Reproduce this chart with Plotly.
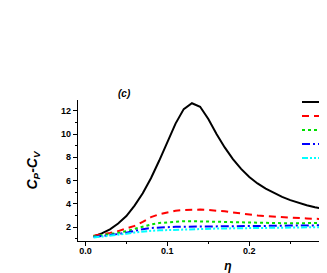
import plotly.graph_objects as go

# ---- data ----
eta = [0.01, 0.02, 0.03, 0.04, 0.05, 0.06, 0.07, 0.08, 0.09, 0.10,
       0.11, 0.12, 0.13, 0.14, 0.15, 0.16, 0.17, 0.18, 0.19, 0.20,
       0.21, 0.22, 0.23, 0.24, 0.25, 0.26, 0.27, 0.28, 0.29, 0.30,
       0.31, 0.32, 0.33, 0.34, 0.35, 0.36]

cpcv_1 = [1.20, 1.45, 1.80, 2.30, 2.95, 3.85, 4.90, 6.20, 7.70, 9.30,
          10.90, 12.15, 12.65, 12.35, 11.30, 10.00, 8.85, 7.85, 7.00, 6.30,
          5.75, 5.30, 4.92, 4.60, 4.32, 4.08, 3.88, 3.70, 3.55, 3.42,
          3.30, 3.20, 3.10, 3.02, 2.95, 2.89]
cpcv_2 = [1.25, 1.35, 1.50, 1.65, 1.85, 2.10, 2.45, 2.85, 3.10, 3.28,
          3.40, 3.47, 3.50, 3.50, 3.47, 3.42, 3.35, 3.25, 3.15, 3.07,
          3.00, 2.94, 2.89, 2.85, 2.81, 2.77, 2.74, 2.71, 2.68, 2.66,
          2.64, 2.62, 2.61, 2.60, 2.59, 2.58]
cpcv_3 = [1.20, 1.28, 1.38, 1.50, 1.65, 1.85, 2.05, 2.22, 2.35, 2.42,
          2.47, 2.50, 2.50, 2.50, 2.48, 2.46, 2.44, 2.42, 2.40, 2.38,
          2.36, 2.34, 2.33, 2.32, 2.32, 2.33, 2.34, 2.35, 2.36, 2.37,
          2.38, 2.39, 2.40, 2.41, 2.42, 2.43]
cpcv_4 = [1.15, 1.22, 1.30, 1.40, 1.52, 1.68, 1.82, 1.92, 1.97, 2.00,
          2.02, 2.03, 2.04, 2.05, 2.05, 2.05, 2.06, 2.06, 2.07, 2.07,
          2.08, 2.08, 2.09, 2.09, 2.10, 2.11, 2.12, 2.12, 2.13, 2.14,
          2.15, 2.16, 2.17, 2.18, 2.19, 2.20]
cpcv_5 = [1.10, 1.17, 1.25, 1.33, 1.42, 1.53, 1.62, 1.68, 1.72, 1.75,
          1.78, 1.80, 1.82, 1.84, 1.86, 1.87, 1.88, 1.89, 1.90, 1.90,
          1.91, 1.92, 1.93, 1.94, 1.95, 1.96, 1.97, 1.98, 1.99, 2.00,
          2.01, 2.02, 2.03, 2.04, 2.05, 2.06]

series = [cpcv_1, cpcv_2, cpcv_3, cpcv_4, cpcv_5]
names = ["", "", "", "", ""]
colors = ["#000000", "#FF0000", "#00E000", "#0000FF", "#00FFFF"]
dashes = ["solid", "7px,5px", "dot", "8px,3px,2px,3px", "6px,2px,2px,2px,2px,2px"]
legend_ids = ["legend", "legend2", "legend3", "legend4", "legend5"]
legend_y_px = [102, 116, 130, 144, 158]   # positions on the page

OFF = 8          # the page's body margin
W, H = 378, 273

FONT = "Liberation Sans, Arial, sans-serif"

fig = go.Figure()
for s, n, c, d, lg in zip(series, names, colors, dashes, legend_ids):
    fig.add_trace(go.Scatter(x=eta, y=s, mode="lines", name=n, legend=lg,
                             line=dict(color=c, width=2, dash=d)))

legends = {}
for lg, ypx in zip(legend_ids, legend_y_px):
    legends[lg] = dict(xref="container", yref="container",
                       x=(302 - OFF - 5) / W, y=1 - (ypx - OFF) / H,
                       xanchor="left", yanchor="middle",
                       bgcolor="rgba(0,0,0,0)", borderwidth=0,
                       font=dict(size=8), itemwidth=30)

fig.update_layout(
    width=W, height=H,
    margin=dict(l=78 - OFF, r=W - (378 - OFF), t=100 - OFF, b=H - (241 - OFF),
                autoexpand=False),
    paper_bgcolor="white", plot_bgcolor="white",
    showlegend=True,
    **legends,
    annotations=[dict(text="<b><i>(c)</i></b>", xref="paper", yref="paper",
                      x=(124 - 78) / 300, y=(241 - 93) / 141,
                      xanchor="center", yanchor="middle", showarrow=False,
                      font=dict(family=FONT, size=10, color="#000"))],
)

fig.update_xaxes(range=[-0.009, 0.357], showgrid=False, zeroline=False,
                 showline=True, linecolor="#000", linewidth=1.2,
                 ticks="outside", ticklen=4, tickwidth=1.2, tickcolor="#000",
                 tick0=0, dtick=0.1, tickformat=".1f", ticklabelstandoff=-3,
                 tickfont=dict(family=FONT, size=9, color="#000", weight="bold"),
                 minor=dict(ticks="outside", ticklen=2, dtick=0.05, tickcolor="#000"),
                 title=dict(text="<b><i>η</i></b>", standoff=6,
                            font=dict(family=FONT, size=12, color="#000")))
fig.update_yaxes(range=[0.8, 12.93], showgrid=False, zeroline=False,
                 showline=True, linecolor="#000", linewidth=1.2,
                 ticks="outside", ticklen=4, tickwidth=1.2, tickcolor="#000",
                 tick0=0, dtick=2,
                 tickfont=dict(family=FONT, size=9, color="#000", weight="bold"),
                 minor=dict(ticks="outside", ticklen=2, dtick=1, tickcolor="#000"),
                 title=dict(text="<b><i>C<sub>P</sub>-C<sub>V</sub></i></b>", standoff=20,
                            font=dict(family=FONT, size=14, color="#000")))

fig.write_html("out.html")
